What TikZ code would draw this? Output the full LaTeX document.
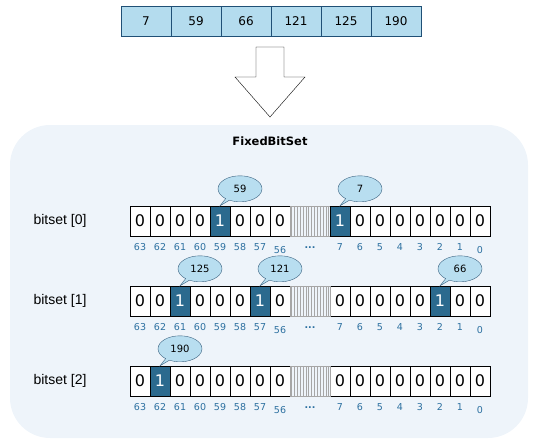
\documentclass[tikz,border=0pt]{standalone}
\usepackage{fontspec}
\setmainfont{DejaVu Sans}
\newfontfamily\rowfont{Liberation Sans}
\usetikzlibrary{positioning,shapes.callouts}
\definecolor{bitblue}{RGB}{43,106,142}
\definecolor{idxblue}{RGB}{44,112,160}
\definecolor{notefill}{RGB}{184,222,240}
\definecolor{noteline}{RGB}{58,98,128}
\definecolor{topfill}{RGB}{180,220,238}
\definecolor{topline}{RGB}{32,80,118}
\definecolor{panelblue}{RGB}{238,244,250}
\begin{document}
\begin{tikzpicture}[x=1pt,y=-1pt,
  topbox/.style={draw=topline,fill=topfill,minimum width=50pt,minimum height=30pt,inner sep=0pt,font=\fontsize{12}{12}\selectfont},
  cellbox/.style={draw,fill=white,minimum width=20pt,minimum height=30pt,inner sep=0pt,font=\fontsize{16}{16}\selectfont},
  setbox/.style={cellbox,fill=bitblue,text=white},
  idx/.style={text=idxblue,inner sep=0pt,anchor=base,font=\fontsize{9.5}{10}\selectfont},
  note/.style={ellipse callout,draw=noteline,fill=notefill,minimum width=44pt,minimum height=26pt,inner sep=0pt,callout pointer arc=12,font=\fontsize{10}{10}\selectfont}]
  \useasboundingbox (0,0) rectangle (540,444);
  % Input values
  \foreach \v [count=\k] in {7,59,66,121,125,190}
    \node[topbox] (v\v) at (96+50*\k,21) {\v};
  % Big arrow
  \draw[fill=white] (256,47) -- (284,47) -- (284,77) -- (305,77) -- (270,117)
    -- (235,77) -- (256,77) -- cycle;
  % Panel
  \fill[panelblue,rounded corners=40pt] (10,125) rectangle (528,438);
  \node[font=\bfseries\fontsize{11.5}{12}\selectfont] (title) at (270,141) {FixedBitSet};
  % Words of the bitset
  \foreach \r in {0,1,2} {
    \pgfmathsetmacro\yc{221+80*\r}
    \node[font=\rowfont\fontsize{14}{14}\selectfont] (lab\r) at (60,\yc) {bitset [\r]};
    \foreach \i in {0,...,7} {
      \pgfmathtruncatemacro\hi{63-\i}
      \pgfmathtruncatemacro\lo{7-\i}
      \pgfmathsetmacro\dh{\hi==56 ? 17 : 14}
      \pgfmathsetmacro\dl{\lo==0 ? 17 : 14}
      \node[cellbox] (b\r-\hi) at (140+20*\i,\yc) {0};
      \node[cellbox] (b\r-\lo) at (340+20*\i,\yc) {0};
      \node[idx] (i\r-\hi) at ([yshift=-\dh pt]b\r-\hi.south) {\hi};
      \node[idx] (i\r-\lo) at ([yshift=-\dl pt]b\r-\lo.south) {\lo};
    }
    % skipped bits
    \draw[gray!70] (290,\yc-15) rectangle (330,\yc+15);
    \foreach \k in {0,...,13}
      \draw[gray!70] (291.5+2.85*\k,\yc-15) -- ++(0,30);
    \node[idx] (d\r) at (310,\yc+27) {\textbf{...}};
  }
  % Set bits and their values
  \foreach \r/\b/\v in {0/59/59,0/7/7,1/61/125,1/57/121,1/2/66,2/62/190} {
    \node[setbox] (s\r-\b) at (b\r-\b) {1};
    \node[note,callout absolute pointer={(s\r-\b.north)}] (n\v)
      at ([xshift=20pt,yshift=17pt]s\r-\b.north) {\v};
  }
\end{tikzpicture}
\end{document}
